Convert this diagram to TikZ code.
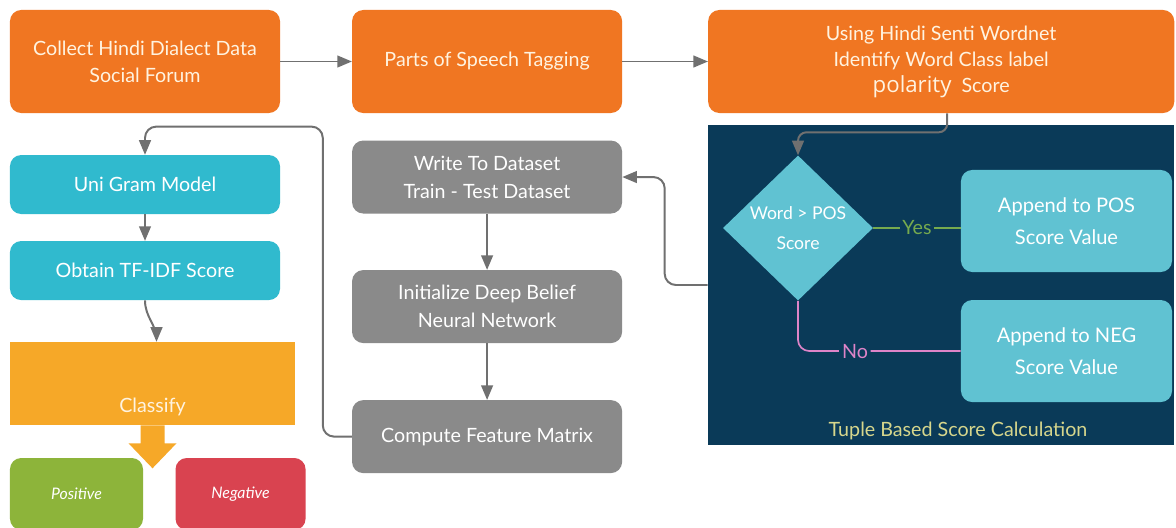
\documentclass[tikz,border=0pt]{standalone}
\usepackage{fontspec}
\setmainfont{Lato}
\newfontfamily\polfont{Open Sans}
\usepackage{tikz}
\usetikzlibrary{shapes,arrows,positioning}
\definecolor{boxorange}{RGB}{240,118,34}
\definecolor{boxgray}{RGB}{138,138,138}
\definecolor{linegray}{RGB}{112,112,112}
\definecolor{boxteal}{RGB}{48,186,206}
\definecolor{lightteal}{RGB}{96,194,210}
\definecolor{panelblue}{RGB}{10,58,88}
\definecolor{clsyellow}{RGB}{246,168,40}
\definecolor{posgreen}{RGB}{141,180,58}
\definecolor{negred}{RGB}{217,67,80}
\definecolor{boxtext}{RGB}{255,243,224}
\definecolor{tuplelabel}{RGB}{214,214,140}
\definecolor{yesgreen}{RGB}{118,170,78}
\definecolor{nopink}{RGB}{222,132,200}
\tikzstyle{line} = [draw, -triangle 45, line width=1.4pt, color=linegray]
\tikzstyle{orangebox} = [rectangle, rounded corners=8pt, fill=boxorange, text=boxtext, minimum width=6.75cm, minimum height=2.575cm, align=center, font=\fontsize{14}{19}\selectfont]
\tikzstyle{graybox} = [rectangle, rounded corners=8pt, fill=boxgray, text=white, minimum width=6.75cm, minimum height=1.825cm, align=center, font=\fontsize{14}{20}\selectfont]
\tikzstyle{tealbox} = [rectangle, rounded corners=8pt, fill=boxteal, text=white, minimum width=6.75cm, minimum height=1.475cm, align=center, font=\fontsize{14}{19}\selectfont]
\tikzstyle{appendbox} = [rectangle, rounded corners=8pt, fill=lightteal, text=white, minimum width=5.275cm, minimum height=2.55cm, align=center, font=\fontsize{14.3}{23}\selectfont]
\tikzstyle{decision} = [diamond, fill=lightteal, text=white, aspect=1, inner sep=0pt, minimum width=3.75cm, minimum height=3.625cm, align=center, font=\fontsize{12.5}{21}\selectfont]
\tikzstyle{result} = [rectangle, rounded corners=8pt, text=white, minimum height=1.8cm, font=\itshape\fontsize{11.3}{13}\selectfont]

\begin{document}
\begin{tikzpicture}[x=0.025cm, y=-0.025cm]
\clip (0,0) rectangle (1176,527);
\fill[white] (0,0) rectangle (1176,527);

% top row
\node [orangebox] (collect) at (145,61.5) {Collect Hindi Dialect Data\\Social Forum};
\node [orangebox, right of=collect, node distance=8.55cm] (postag) {Parts of Speech Tagging};
\node [orangebox, right of=postag, node distance=11.35cm, minimum width=11.65cm, font=\fontsize{14}{18.5}\selectfont] (wordnet) {Using Hindi Senti Wordnet\\Identify Word Class label\\{\polfont\fontsize{15.8}{18.5}\selectfont polarity}\ \ Score};
\path [line] (collect) to (postag);
\path [line] (postag) to (wordnet);

% tuple based score panel
\node [rectangle, fill=panelblue, minimum width=11.65cm, minimum height=8cm] (panel) at (941,285) {};
\node [text=tuplelabel, font=\fontsize{14}{16}\selectfont] (tuple) at (958,431) {Tuple Based Score Calculation};
\node [decision] (dec) at (798,228) {Word > POS\\Score};
\node [appendbox] (posval) at (1066.5,221) {Append to POS\\Score Value};
\node [appendbox, below of=posval, node distance=3.25cm] (negval) {Append to NEG\\Score Value};
\path [line, rounded corners=6pt] ([xshift=0.15cm]wordnet.south) -- ++(0,19) -| (dec.north);
\draw [yesgreen, line width=1.2pt] (dec.east) -- (dec.east -| posval.west) node [midway, fill=panelblue, inner sep=2pt, font=\fontsize{14}{16}\selectfont] {Yes};
\draw [nopink, line width=1.2pt, rounded corners=8pt] (dec.south) |- (negval.west) node [pos=0.675, fill=panelblue, inner sep=2pt, font=\fontsize{14}{16}\selectfont] {No};

% deep belief network column
\node [graybox, below of=postag, node distance=2.8875cm] (write) {Write To Dataset\\Train - Test Dataset};
\node [graybox, below of=write, node distance=3.2375cm] (init) {Initialize Deep Belief\\Neural Network};
\node [graybox, below of=init, node distance=3.25cm] (compute) {Compute Feature Matrix};
\path [line, rounded corners=8pt] (panel.west) -- ++(-43,0) |- (write.east);
\path [line] (write) to (init);
\path [line] (init) to (compute);

% classification column
\node [tealbox, below of=collect, node distance=3.075cm] (unigram) {Uni Gram Model};
\node [tealbox, below of=unigram, node distance=2.15cm] (tfidf) {Obtain TF-IDF Score};
\path [line, rounded corners=8pt] (compute.west) -- ++(-29,0) -- ++(0,-310) -| (unigram.north);
\path [line] (unigram) to (tfidf);
\node [rectangle, fill=clsyellow, minimum width=7.125cm, minimum height=2.075cm] (cls) at (152.5,383.5) {};
\node [above=0.12cm of cls.south, text=boxtext, font=\fontsize{14}{16}\selectfont] (clstext) {Classify};
\path [line] (tfidf.south) to [out=-90, in=90] ([xshift=0.1cm]cls.north);
\fill [clsyellow] (cls.south) ++(-12,0) -- ++(0,18) -- ++(-12,0) -- ++(24,25) -- ++(24,-25) -- ++(-12,0) -- ++(0,-18) -- cycle;
\node [result, fill=posgreen, minimum width=3.325cm] (positive) at (76.5,494) {Positive};
\node [result, fill=negred, minimum width=3.25cm, right of=positive, node distance=4.1cm] (negative) {Negative};

\end{tikzpicture}
\end{document}
